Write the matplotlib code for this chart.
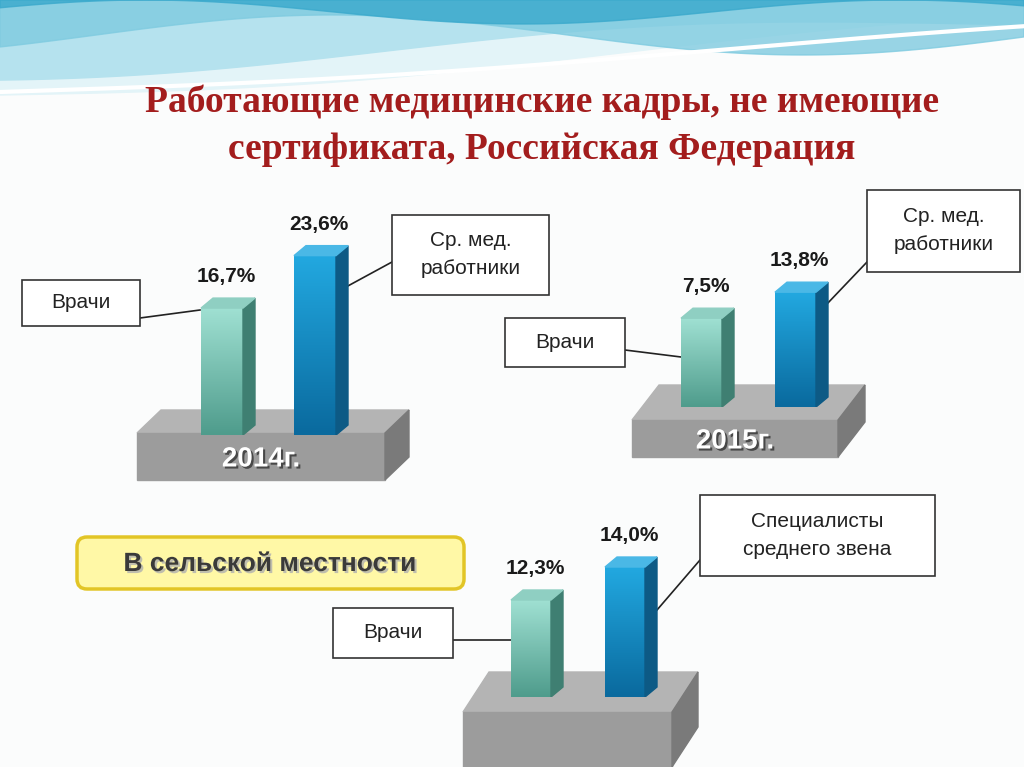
import numpy as np
import matplotlib
matplotlib.use("Agg")
import matplotlib.pyplot as plt
from matplotlib.patches import Polygon, FancyBboxPatch, Rectangle
from matplotlib.colors import LinearSegmentedColormap
import matplotlib.patheffects as pe

plt.rcParams['font.family'] = ['Liberation Sans', 'DejaVu Sans']

# ---- data ----
years = ["2014г.", "2015г.", ""]
doctors = [16.7, 7.5, 12.3]
nurses = [23.6, 13.8, 14.0]
doc_labels = ["16,7%", "7,5%", "12,3%"]
nurse_labels = ["23,6%", "13,8%", "14,0%"]
doc_box = ["Врачи", "Врачи", "Врачи"]
nurse_box = ["Ср. мед.\nработники", "Ср. мед.\nработники", "Специалисты\nсреднего звена"]
title = "Работающие медицинские кадры, не имеющие\nсертификата, Российская Федерация"
rural = "В сельской местности"

W, H = 1024, 767
fig = plt.figure(figsize=(W/100, H/100), dpi=100)
bg = fig.add_axes([0, 0, 1, 1])
bg.set_xlim(0, W); bg.set_ylim(H, 0); bg.axis("off")
bg.add_patch(Rectangle((0, 0), W, H, color="#fbfcfc", zorder=0))

xs = np.linspace(0, W, 300)
bg.fill_between(xs, 0, 95 - 70*(xs/W) + 10*np.sin(xs/200), color="#e3f4f8", zorder=1)
bg.fill_between(xs, 0, 70 - 50*(xs/W) + 12*np.sin(xs/180 + 1), color="#b5e2ee", zorder=1)
bg.fill_between(xs, 0, 35 + 20*np.sin(xs/150 + 2.5), color="#7fcbe0", alpha=0.8, zorder=1)
bg.fill_between(xs, 0, 12 + 12*np.sin(xs/120 + 3.5), color="#3aa9cc", alpha=0.8, zorder=1)
bg.plot(xs, 92 - 60*(xs/W) + 6*np.sin(xs/230), color="white", lw=3, zorder=1)

bg.text(542, 126, title, ha="center", va="center", fontsize=27, fontweight="bold",
        family="Liberation Serif", color="#a31d1d", linespacing=1.45, zorder=5)

charts = [
    dict(base=435, k=7.6, v0=0.0, xd=201, xn=294, bw=42,
         plat=(137, 385, 433, 480), pd=(24, 23)),
    dict(base=407, k=4.13, v0=-14.0, xd=681, xn=775, bw=41,
         plat=(632, 838, 420, 457), pd=(27, 35)),
    dict(base=697, k=19.4, v0=7.3, xd=511, xn=605, bw=40,
         plat=(463, 672, 712, 767), pd=(26, 40)),
]
boxes = [
    [(22, 280, 118, 46, 140, 318, 200, 310), (392, 215, 157, 80, 392, 262, 346, 287)],
    [(505, 318, 120, 49, 625, 350, 681, 357), (867, 190, 153, 82, 867, 262, 826, 305)],
    [(333, 608, 120, 50, 453, 640, 511, 640), (700, 495, 235, 81, 700, 560, 657, 610)],
]

def grad_bar(ax, x, w, y0, y1, c_light, c_dark):
    cm2 = LinearSegmentedColormap.from_list("g2", [c_light, c_dark])
    r = Rectangle((x, y0), w, y1 - y0, transform=ax.transData, fill=False, lw=0)
    ax.add_patch(r)
    im = ax.imshow(np.linspace(0, 1, 64)[:, None] * np.ones((1, 8)), extent=(x, x+w, y0, y1),
                   cmap=cm2, origin="upper", aspect="auto", zorder=3)
    im.set_clip_path(r)

for i, c in enumerate(charts):
    base, k, v0 = c["base"], c["k"], c["v0"]
    x0, x1, yt, yb = c["plat"]; dx, dy = c["pd"]
    bg.add_patch(Polygon([(x0, yt), (x1, yt), (x1+dx, yt-dy), (x0+dx, yt-dy)], closed=True,
                         color="#b4b4b4", zorder=2))
    bg.add_patch(Polygon([(x0, yt), (x1, yt), (x1, yb), (x0, yb)], closed=True,
                         color="#9c9c9c", zorder=2))
    bg.add_patch(Polygon([(x1, yt), (x1+dx, yt-dy), (x1+dx, yb-dy), (x1, yb)], closed=True,
                         color="#7a7a7a", zorder=2))
    if years[i]:
        bg.text((x0+x1)/2, (yt+yb)/2 + 3, years[i], ha="center", va="center", color="white",
                fontsize=20, fontweight="bold", zorder=6,
                path_effects=[pe.withSimplePatchShadow(offset=(1.5, -1.5), shadow_rgbFace="#333333", alpha=0.8)])
    ax = fig.add_axes([0, (H-base)/H, 1, base/H])
    ax.set_xlim(0, W); ax.set_ylim(v0, v0 + base/k); ax.axis("off")
    ax.patch.set_alpha(0)
    ddx, ddy = 12, 10 / k
    for xb, v, cl, cd, side, top, lab in [
        (c["xd"], doctors[i], "#9fe0d2", "#4f9c8c", "#3f7f72", "#8fcfc2", doc_labels[i]),
        (c["xn"], nurses[i], "#22a8e0", "#0a6a9e", "#0d5a85", "#4ab8e6", nurse_labels[i])]:
        w = c["bw"]
        grad_bar(ax, xb, w, v0, v, cl, cd)
        ax.add_patch(Polygon([(xb+w, v0), (xb+w+ddx, v0+ddy), (xb+w+ddx, v+ddy), (xb+w, v)],
                             closed=True, color=side, zorder=3))
        ax.add_patch(Polygon([(xb, v), (xb+w, v), (xb+w+ddx, v+ddy), (xb+ddx, v+ddy)],
                             closed=True, color=top, zorder=3))
        ax.text(xb + w/2 + 4, v + ddy + 12/k, lab, ha="center", va="bottom", fontsize=15,
                fontweight="bold", color="#1a1a1a", zorder=5)
    for (bx, by, bw_, bh, lx0, ly0, lx1, ly1), txt in zip(boxes[i], [doc_box[i], nurse_box[i]]):
        bg.plot([lx0, lx1], [ly0, ly1], color="#222222", lw=1.2, zorder=6)
        bg.add_patch(Rectangle((bx, by), bw_, bh, facecolor="white", edgecolor="#333333",
                               lw=1.2, zorder=6))
        bg.text(bx + bw_/2, by + bh/2, txt, ha="center", va="center", fontsize=15,
                color="#222222", linespacing=1.6, zorder=7)

bg.add_patch(FancyBboxPatch((77, 537), 387, 52, boxstyle="round,pad=0,rounding_size=10",
                            facecolor="#fff8a6", edgecolor="#e2c526", lw=2.5, zorder=6))
bg.text(270, 564, rural, ha="center", va="center", fontsize=19, fontweight="bold",
        color="#3a3a3a", zorder=7,
        path_effects=[pe.withSimplePatchShadow(offset=(1.5, -1.5), shadow_rgbFace="#b0b0b0", alpha=0.8)])

fig.savefig("out.png", dpi=100)
